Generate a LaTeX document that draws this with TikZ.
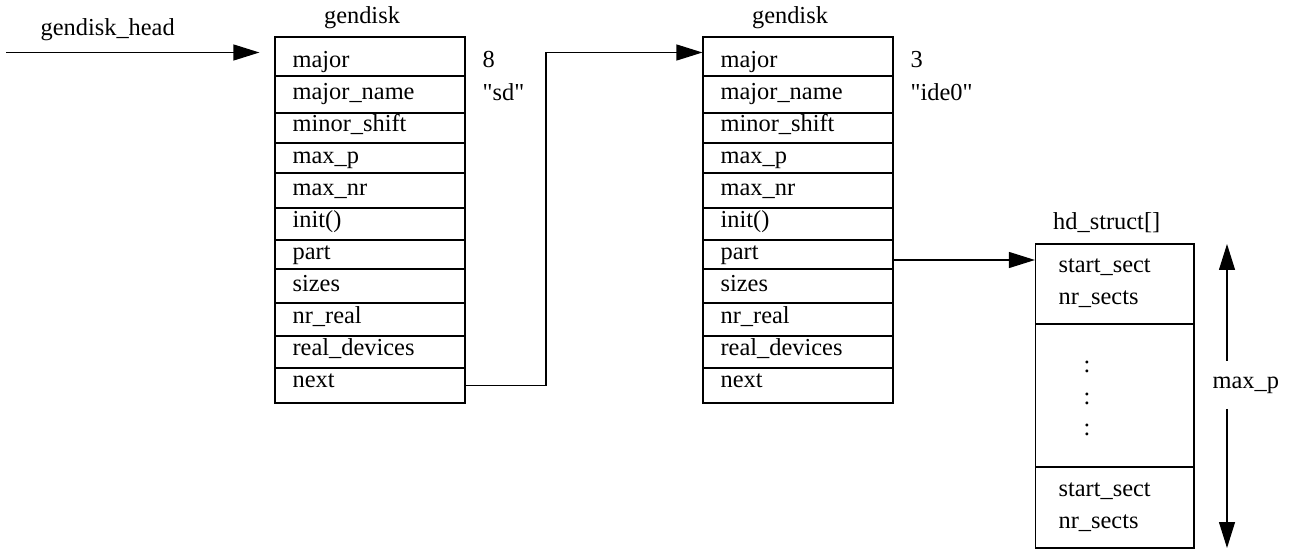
\documentclass[tikz,border=0pt]{standalone}
\usepackage{fontspec}
\setmainfont{Liberation Serif}
\newfontfamily\qfont{Liberation Serif}
\usetikzlibrary{arrows.meta}
\begin{document}
\begin{tikzpicture}[x=0.5pt,y=-0.5pt,line width=0.6pt,
  txt/.style={inner sep=0pt,font=\fontsize{12.2}{14}\selectfont},
  lbl/.style={txt,anchor=base west},
  ttl/.style={txt,anchor=base},
  cell/.style={draw,inner sep=0pt,minimum width=95pt},
  hcell/.style={draw,inner sep=0pt,minimum width=79.25pt},
  arr/.style={-{Triangle[length=13pt,width=8pt]}}]
\useasboundingbox (0,0) rectangle (1289,550);

% gendisk boxes
\foreach \b/\x in {g1/275,g2/703}{
  \foreach \i/\ya/\yb in {1/37/76,2/76/113,3/113/143,4/143/173,5/173/208,6/208/240,7/240/269,8/269/303,9/303/336,10/336/368,11/368/403}{
    \node[cell,minimum height={(\yb-\ya)*0.5pt}] (\b r\i) at ({\x+95},{(\ya+\yb)/2}) {};
  }
  \foreach \i/\t in {1/major,2/major\_name,3/minor\_shift,4/max\_p,5/max\_nr,6/init(),7/part,8/sizes,9/nr\_real,10/real\_devices,11/next}{
    \node[lbl] (\b t\i) at ({\x+17},{68+31.9*(\i-1)}) {\t};
  }
  \node[ttl] (\b title) at ({\x+87},23.3) {gendisk};
}
\node[lbl] (v1a) at (482,68) {8};
\node[lbl] (v1b) at (482,101) {\qfont "sd"};
\node[lbl] (v2a) at (910,68) {3};
\node[lbl] (v2b) at (910,101) {\qfont "ide0"};

% head pointer
\node[lbl] (headlbl) at (40,36) {gendisk\_head};
\coordinate (hs) at (6,52.5);
\draw[arr,shorten >=7.5pt] (hs) -- (hs -| g1r1.west);

% next pointer
\coordinate (jt) at (546,52.5);
\draw[arr] (g1r11.east) -- (g1r11.east -| jt) -- (jt) -- (jt -| g2r1.west);

% hd_struct array
\node[hcell,minimum height=40pt] (h1) at (1114.75,284) {};
\node[hcell,minimum height=71.5pt] (h2) at (1114.75,395.5) {};
\node[hcell,minimum height=40.5pt] (h3) at (1114.75,507.5) {};
\node[ttl] (htitle) at (1106.7,230) {hd\_struct[]};
\node[lbl] (h1a) at (1058,272.7) {start\_sect};
\node[lbl] (h1b) at (1058,305) {nr\_sects};
\node[lbl] (h3a) at (1058,496) {start\_sect};
\node[lbl] (h3b) at (1058,528) {nr\_sects};
\node[ttl] (d1) at (1087,372) {:};
\node[ttl] (d2) at (1087,404) {:};
\node[ttl] (d3) at (1087,435) {:};

% part pointer
\coordinate (ps) at (893.3,260);
\draw[arr] (ps) -- (ps -| h1.west);

% max_p dimension
\node[txt,anchor=base west,inner ysep=7.5pt,inner xsep=0pt] (mp) at (1212,388) {max\_p};
\coordinate (mt) at (1227,244);
\coordinate (mb) at (1227,548);
\draw[arr] (mp.north -| mt) -- (mt);
\draw[arr] (mp.south -| mb) -- (mb);
\end{tikzpicture}
\end{document}
